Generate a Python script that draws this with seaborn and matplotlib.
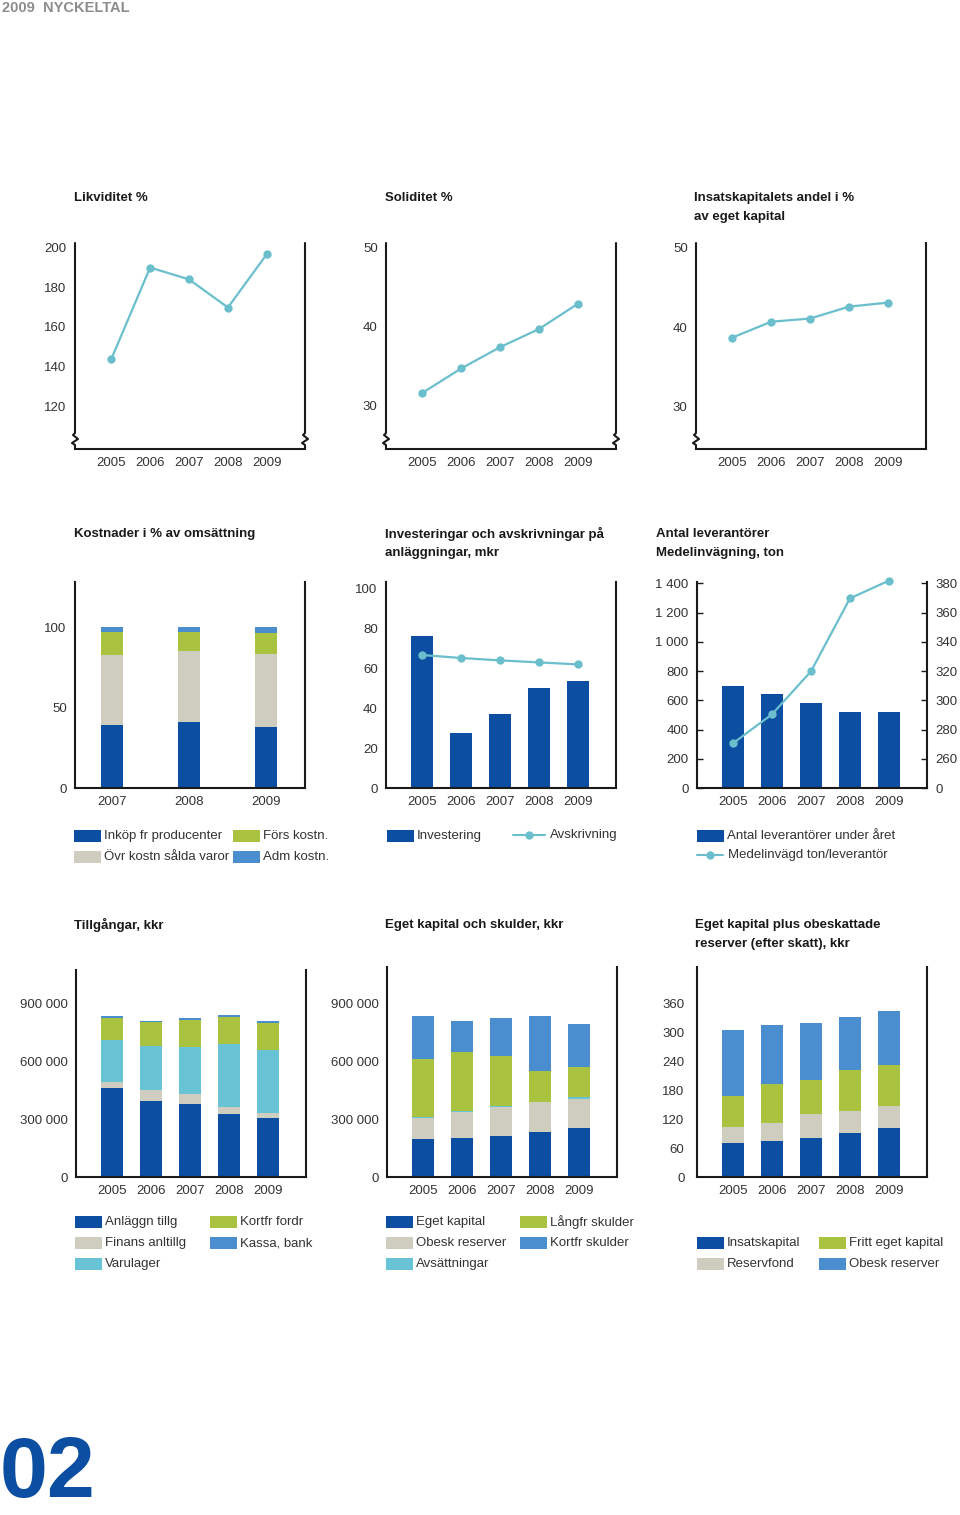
import numpy as np
import matplotlib
matplotlib.use("Agg")
import matplotlib.pyplot as plt
from matplotlib.lines import Line2D
from matplotlib.patches import Rectangle
import seaborn as sns

# ---- data ----
years = ["2005", "2006", "2007", "2008", "2009"]

likviditet = [143.6, 190.0, 184.0, 169.8, 196.8]
soliditet = [31.6, 34.7, 37.4, 39.7, 42.9]
insats_andel = [38.7, 40.7, 41.1, 42.6, 43.1]

kost_years = ["2007", "2008", "2009"]
inkop = [39.2, 41.3, 37.7]
ovr_kostn = [43.6, 43.8, 45.5]
fors_kostn = [14.2, 11.7, 13.4]
adm_kostn = [3.0, 3.2, 3.4]

investering = [75.9, 27.3, 37.2, 50.2, 53.7]
avskrivning = [66.5, 65.0, 63.8, 62.8, 61.8]

leverantorer = [695, 645, 585, 522, 518]
medelinvagning = [270.7, 290.5, 319.9, 369.8, 381.9]

anlaggn_tillg = [461000, 395000, 379000, 328000, 303000]
finans_anltillg = [30000, 54000, 49000, 37000, 27000]
varulager = [221000, 231000, 246000, 324000, 328000]
kortfr_fordr = [112000, 121000, 138000, 140000, 137000]
kassa_bank = [9000, 7000, 9000, 9000, 12000]

eget_kapital = [198000, 202000, 212000, 233000, 254000]
obesk_reserver = [110000, 137000, 149000, 153000, 151000]
avsattningar = [5000, 5000, 5000, 5000, 7000]
langfr_skulder = [297000, 303000, 262000, 156000, 156000]
kortfr_skulder = [224000, 160000, 198000, 286000, 227000]

insatskapital = [70.7, 74.3, 81.3, 91.8, 101.7]
reservfond = [33.7, 38.0, 50.0, 45.0, 45.0]
fritt_eget = [64.0, 81.0, 69.0, 85.5, 86.0]
obesk_res_skatt = [137.0, 122.0, 118.0, 110.0, 111.6]

# ---- colours ----
DARK = "#0b4ea2"
LIGHT = "#4a8ecf"
CYAN = "#68c3d5"
LINE = "#6bbfcd"
GREEN = "#a9c23f"
BEIGE = "#cfcdbf"
INK = "#1a1a1a"

sns.set_theme(style="white")
plt.rcParams["font.family"] = ["Liberation Sans", "DejaVu Sans"]
plt.rcParams["font.size"] = 9.5

W, H = 960, 1515
fig = plt.figure(figsize=(9.6, 15.15), dpi=100)
fig.patch.set_facecolor("white")


def fx(x):
    return x / W


def fy(y):
    return 1 - y / H


def place(l, t, r, b):
    return fig.add_axes([fx(l), fy(b), (r - l) / W, (b - t) / H])


def spine(x, top, bottom, broken=False):
    xs, ys = [x], [top]
    if broken:
        for dx, dy in [(0, -16), (-2, -14), (3, -10), (-3, -6), (0, -4)]:
            xs.append(x + dx)
            ys.append(bottom + dy)
    xs.append(x)
    ys.append(bottom)
    fig.add_artist(Line2D([fx(v) for v in xs], [fy(v) for v in ys],
                          transform=fig.transFigure, color=INK, lw=1.5))


def style(ax, l, t, r, b, brk_left=False, brk_right=False):
    ax.set_facecolor("none")
    ax.set(xlabel="", ylabel="")
    ax.spines["top"].set_visible(False)
    for s in ["left", "right", "bottom"]:
        ax.spines[s].set_color(INK)
        ax.spines[s].set_linewidth(1.5)
    if brk_left:
        ax.spines["left"].set_visible(False)
        spine(l, t, b, True)
    if brk_right:
        ax.spines["right"].set_visible(False)
        spine(r, t, b, True)
    ax.tick_params(axis="x", length=0, pad=6, labelsize=9.5, colors="#333333")
    ax.tick_params(axis="y", which="both", direction="in", length=4, width=1,
                   color=INK, pad=6, labelsize=9.5, labelcolor="#333333")


def title(x, y, lines):
    for i, s in enumerate(lines):
        fig.text(fx(x), fy(y + 19 * i), s, fontsize=9.5, fontweight="bold",
                 color=INK, va="center", ha="left")


def leg_patch(x, y, color, label):
    fig.add_artist(Rectangle((fx(x), fy(y + 6)), 27 / W, 12 / H,
                             transform=fig.transFigure, color=color, lw=0))
    fig.text(fx(x + 30), fy(y), label, fontsize=9.5, color="#333333",
             va="center", ha="left")


def leg_line(x, y, label, length=30):
    fig.add_artist(Line2D([fx(x), fx(x + length)], [fy(y), fy(y)],
                          transform=fig.transFigure, color=LINE, lw=1.5))
    fig.add_artist(Line2D([fx(x + length / 2)], [fy(y)], transform=fig.transFigure,
                          color=LINE, marker="o", markersize=6, markeredgewidth=0))
    fig.text(fx(x + length + 5), fy(y), label, fontsize=9.5, color="#333333",
             va="center", ha="left")


def line(ax, vals):
    sns.lineplot(x=np.arange(len(vals)), y=vals, color=LINE, linewidth=1.6,
                 marker="o", markersize=6, markeredgewidth=0, ax=ax, clip_on=False)


def stacked(ax, cats, layers, colors, width):
    cum = np.cumsum(np.array(layers, dtype=float), axis=0)
    for vals, c in zip(cum[::-1], colors[::-1]):
        sns.barplot(x=cats, y=vals, color=c, width=width, saturation=1,
                    errorbar=None, linewidth=0, ax=ax)


def xyears(ax, cats, lo=-0.93, hi=4.98):
    ax.set_xticks(range(len(cats)))
    ax.set_xticklabels(cats)
    ax.set_xlim(lo, hi)


def thousands(v):
    return f"{int(v):,}".replace(",", " ")


# header and page number
fig.text(fx(2), fy(8), "2009  NYCKELTAL", fontsize=10.5, fontweight="bold",
         color="#8c8c8c", va="center", ha="left")
fig.text(fx(0), fy(1497), "02", fontsize=62, fontweight="bold", color=DARK,
         va="baseline", ha="left")

# ---- row 1: line charts ----
l, t, r, b = 75, 243, 305, 449
ax = place(l, t, r, b)
line(ax, likviditet)
ax.set_ylim(98.3, 202.4)
ax.set_yticks([120, 140, 160, 180, 200])
xyears(ax, years)
style(ax, l, t, r, b, True, True)
title(74, 198, ["Likviditet %"])

l, t, r, b = 386, 243, 616, 449
ax = place(l, t, r, b)
line(ax, soliditet)
ax.set_ylim(24.5, 50.6)
ax.set_yticks([30, 40, 50])
ax.set_yticks([35, 45], minor=True)
xyears(ax, years)
style(ax, l, t, r, b, True, True)
title(385, 198, ["Soliditet %"])

l, t, r, b = 696, 243, 926, 449
ax = place(l, t, r, b)
line(ax, insats_andel)
ax.set_ylim(24.7, 50.6)
ax.set_yticks([30, 40, 50])
ax.set_yticks([35, 45], minor=True)
xyears(ax, years)
style(ax, l, t, r, b, True, False)
title(694, 198, ["Insatskapitalets andel i %", "av eget kapital"])

# ---- row 2 ----
l, t, r, b = 75, 582, 305, 788
ax = place(l, t, r, b)
stacked(ax, kost_years, [inkop, ovr_kostn, fors_kostn, adm_kostn],
        [DARK, BEIGE, GREEN, LIGHT], 0.285)
ax.set_ylim(0, 128)
ax.set_yticks([0, 50, 100])
ax.set_yticks([25, 75], minor=True)
xyears(ax, kost_years, -0.475, 2.505)
style(ax, l, t, r, b)
title(74, 534, ["Kostnader i % av omsättning"])
leg_patch(74, 836, DARK, "Inköp fr producenter")
leg_patch(74, 857, BEIGE, "Övr kostn sålda varor")
leg_patch(233, 836, GREEN, "Förs kostn.")
leg_patch(233, 857, LIGHT, "Adm kostn.")

l, t, r, b = 386, 582, 616, 788
ax = place(l, t, r, b)
sns.barplot(x=years, y=investering, color=DARK, width=0.56, saturation=1,
            errorbar=None, linewidth=0, ax=ax)
line(ax, avskrivning)
ax.set_ylim(0, 103)
ax.set_yticks(range(0, 101, 20))
xyears(ax, years)
style(ax, l, t, r, b)
title(385, 534, ["Investeringar och avskrivningar på", "anläggningar, mkr"])
leg_patch(387, 836, DARK, "Investering")
leg_line(513, 835, "Avskrivning", 32)

l, t, r, b = 697, 582, 927, 788
ax = place(l, t, r, b)
sns.barplot(x=years, y=leverantorer, color=DARK, width=0.56, saturation=1,
            errorbar=None, linewidth=0, ax=ax)
ax.set_ylim(0, 1410)
lt = list(range(0, 1401, 200))
ax.set_yticks(lt)
ax.set_yticklabels([thousands(v) for v in lt])
xyears(ax, years)
style(ax, l, t, r, b)
ax2 = ax.twinx()
line(ax2, medelinvagning)
ax2.set_ylim(240, 381)
rt = list(range(240, 381, 20))
ax2.set_yticks(rt)
ax2.set_yticklabels(["0"] + [str(v) for v in rt[1:]])
ax2.set(ylabel="")
for s in ax2.spines.values():
    s.set_visible(False)
ax2.tick_params(axis="y", direction="in", length=4, width=1, color=INK, pad=6,
                labelsize=9.5, labelcolor="#333333")
ax2.set_xlim(-0.93, 4.98)
title(656, 534, ["Antal leverantörer", "Medelinvägning, ton"])
leg_patch(697, 836, DARK, "Antal leverantörer under året")
leg_line(697, 855, "Medelinvägd ton/leverantör", 26)

# ---- row 3 ----
l, t, r, b = 76, 970, 306, 1177
ax = place(l, t, r, b)
stacked(ax, years, [anlaggn_tillg, finans_anltillg, varulager, kortfr_fordr, kassa_bank],
        [DARK, BEIGE, CYAN, GREEN, LIGHT], 0.56)
ax.set_ylim(0, 1072000)
mt = [0, 300000, 600000, 900000]
ax.set_yticks(mt)
ax.set_yticklabels([thousands(v) for v in mt])
ax.set_yticks([150000, 450000, 750000, 1050000], minor=True)
xyears(ax, years)
style(ax, l, t, r, b)
title(74, 925, ["Tillgångar, kkr"])
leg_patch(75, 1222, DARK, "Anläggn tillg")
leg_patch(75, 1243, BEIGE, "Finans anltillg")
leg_patch(75, 1264, CYAN, "Varulager")
leg_patch(210, 1222, GREEN, "Kortfr fordr")
leg_patch(210, 1243, LIGHT, "Kassa, bank")

l, t, r, b = 387, 967, 617, 1177
ax = place(l, t, r, b)
stacked(ax, years, [eget_kapital, obesk_reserver, avsattningar, langfr_skulder, kortfr_skulder],
        [DARK, BEIGE, CYAN, GREEN, LIGHT], 0.56)
ax.set_ylim(0, 1088000)
ax.set_yticks(mt)
ax.set_yticklabels([thousands(v) for v in mt])
ax.set_yticks([150000, 450000, 750000, 1050000], minor=True)
xyears(ax, years)
style(ax, l, t, r, b)
title(385, 925, ["Eget kapital och skulder, kkr"])
leg_patch(386, 1222, DARK, "Eget kapital")
leg_patch(386, 1243, BEIGE, "Obesk reserver")
leg_patch(386, 1264, CYAN, "Avsättningar")
leg_patch(520, 1222, GREEN, "Långfr skulder")
leg_patch(520, 1243, LIGHT, "Kortfr skulder")

l, t, r, b = 697, 967, 927, 1177
ax = place(l, t, r, b)
stacked(ax, years, [insatskapital, reservfond, fritt_eget, obesk_res_skatt],
        [DARK, BEIGE, GREEN, LIGHT], 0.56)
ax.set_ylim(0, 435)
ax.set_yticks(range(0, 361, 60))
xyears(ax, years)
style(ax, l, t, r, b)
ax.tick_params(axis="y", length=0, pad=9)
title(695, 925, ["Eget kapital plus obeskattade", "reserver (efter skatt), kkr"])
leg_patch(697, 1243, DARK, "Insatskapital")
leg_patch(697, 1264, BEIGE, "Reservfond")
leg_patch(819, 1243, GREEN, "Fritt eget kapital")
leg_patch(819, 1264, LIGHT, "Obesk reserver")

fig.savefig("out.png", dpi=100)
